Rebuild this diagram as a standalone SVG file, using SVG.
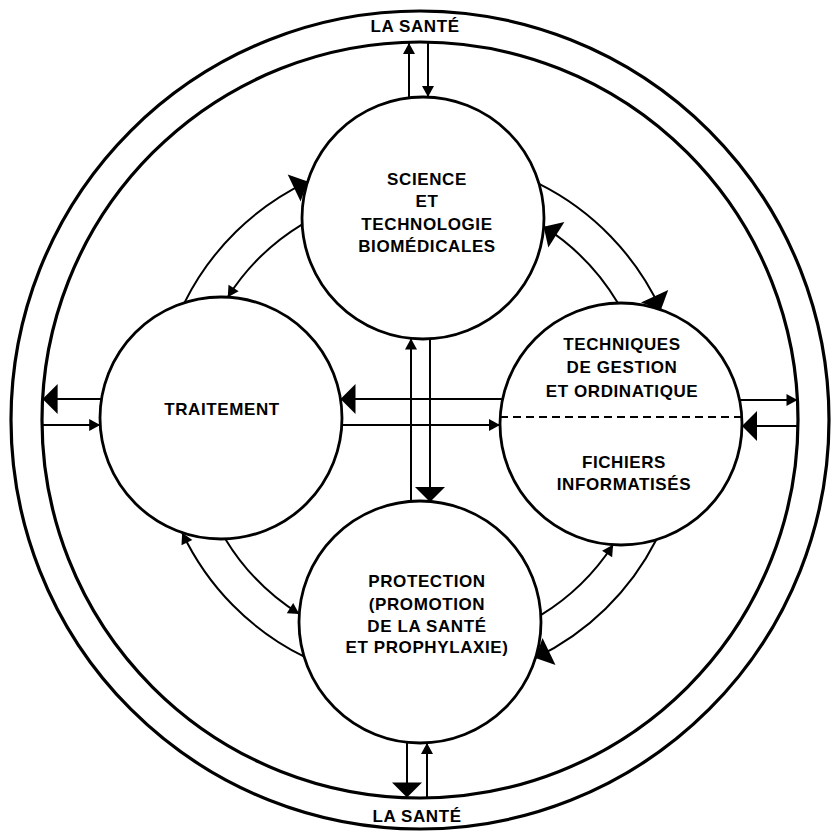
<svg xmlns="http://www.w3.org/2000/svg" width="839" height="833" viewBox="0 0 839 833">
<style>
.ring{fill:none;stroke:#000;stroke-width:3.2}
.node{fill:none;stroke:#000;stroke-width:2.8}
.c{fill:none;stroke:#000;stroke-width:2}
.dash{fill:none;stroke:#000;stroke-width:2;stroke-dasharray:8 5}
text{font-family:"Liberation Sans",Arial,Helvetica,sans-serif;font-weight:bold;font-size:17px;letter-spacing:0.6px;text-anchor:middle;fill:#000}
.big{marker-end:url(#big)}
.sm{marker-end:url(#sm)}
</style>
<defs>
<marker id="big" markerUnits="userSpaceOnUse" markerWidth="16" markerHeight="32" refX="15" refY="15" orient="auto" overflow="visible"><path d="M0,0 L15,15 L0,30 Z" fill="#000"/></marker>
<marker id="sm" markerUnits="userSpaceOnUse" markerWidth="12" markerHeight="12" refX="11" refY="6" orient="auto" overflow="visible"><path d="M0,0 L11,6 L0,12 Z" fill="#000"/></marker>
</defs>
<rect width="839" height="833" fill="#fff"/>
<g id="outer">
<circle class="ring" cx="420" cy="420" r="409"/>
<circle class="ring" cx="420" cy="420" r="378"/>
<text x="415" y="32">LA SANTÉ</text>
<text x="417" y="822">LA SANTÉ</text>
</g>
<g id="connectors">
<line class="c sm" x1="409" y1="97" x2="409" y2="43"/>
<line class="c sm" x1="428" y1="43" x2="428" y2="97"/>
<line class="c big" x1="407" y1="743" x2="407" y2="797.5"/>
<line class="c sm" x1="427" y1="797.5" x2="427" y2="743"/>
<line class="c big" x1="101.5" y1="399" x2="42.6" y2="399"/>
<line class="c sm" x1="42.6" y1="425" x2="100.2" y2="425"/>
<line class="c sm" x1="740" y1="400" x2="797.5" y2="400"/>
<line class="c big" x1="797.5" y1="426" x2="742" y2="426"/>
<line class="c big" x1="502" y1="399" x2="340.5" y2="399"/>
<line class="c sm" x1="341" y1="425" x2="500" y2="425"/>
<line class="c sm" x1="411" y1="501.3" x2="411" y2="338.5"/>
<line class="c big" x1="430" y1="339" x2="430" y2="502"/>
<path class="c big" d="M184.5,302.6 A264,264 0 0 1 307.7,181.6"/>
<path class="c sm" d="M302.2,224.3 A229,229 0 0 0 227.7,297.2"/>
<path class="c big" d="M539.1,183.9 A264,264 0 0 1 660.9,309.8"/>
<path class="c big" d="M617.9,303.1 A229,229 0 0 0 543.7,226.7"/>
<path class="c sm" d="M540.8,615.2 A229,229 0 0 0 613.1,544.8"/>
<path class="c big" d="M656.3,539.8 A264,264 0 0 1 535.5,657.9"/>
<path class="c sm" d="M225.3,538.9 A229,229 0 0 0 299.3,614"/>
<path class="c sm" d="M304.2,656.7 A264,264 0 0 1 182.2,532.7"/>
</g>
<g id="science">
<circle class="node" cx="423" cy="218" r="121"/>
<text x="427" y="185">SCIENCE</text>
<text x="427" y="207">ET</text>
<text x="427" y="230">TECHNOLOGIE</text>
<text x="427" y="252">BIOMÉDICALES</text>
</g>
<g id="traitement">
<circle class="node" cx="221" cy="418" r="121"/>
<text x="222" y="415">TRAITEMENT</text>
</g>
<g id="gestion">
<circle class="node" cx="621" cy="424" r="121"/>
<line class="dash" x1="500" y1="417" x2="742" y2="417"/>
<text x="622" y="350">TECHNIQUES</text>
<text x="622" y="373">DE GESTION</text>
<text x="622" y="397">ET ORDINATIQUE</text>
<text x="624" y="468">FICHIERS</text>
<text x="624" y="490">INFORMATISÉS</text>
</g>
<g id="protection">
<circle class="node" cx="420" cy="622" r="121"/>
<text x="427" y="587">PROTECTION</text>
<text x="427" y="610">(PROMOTION</text>
<text x="427" y="632">DE LA SANTÉ</text>
<text x="427" y="653">ET PROPHYLAXIE)</text>
</g>
</svg>
